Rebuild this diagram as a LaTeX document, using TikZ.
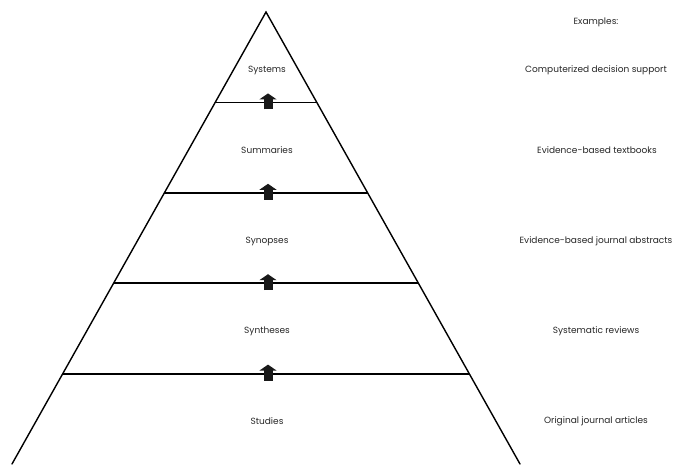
\documentclass[tikz,border=0pt]{standalone}
\usepackage{fontspec}
\setmainfont{Poppins}
\usetikzlibrary{arrows.meta,calc}
\tikzstyle{side} = [line width=1.4pt, line cap=round]
\tikzstyle{rung} = [line width=1.8pt]
\tikzstyle{level} = [font=\fontsize{9}{11}\selectfont, text=black!85, inner sep=0pt]
\tikzstyle{example} = [font=\fontsize{9}{11}\selectfont, text=black!85, inner sep=0pt]
\tikzstyle{uparrow} = [line width=9pt, black!90, -{Triangle[length=6pt,width=17pt]}]

\begin{document}
\begin{tikzpicture}[x=1pt, y=-1pt]
        \useasboundingbox (0,0) rectangle (686,464);
        % pyramid outline
        \coordinate (apex) at (266,12);
        \coordinate (bl) at (12,464);
        \coordinate (br) at (520,464);
        \draw [side] (bl) -- (apex) -- (br);
        % rungs between the levels
        \coordinate (l1) at ($(apex)!0.2!(bl)$);
        \coordinate (r1) at ($(apex)!0.2!(br)$);
        \coordinate (l2) at ($(apex)!0.4!(bl)$);
        \coordinate (r2) at ($(apex)!0.4!(br)$);
        \coordinate (l3) at ($(apex)!0.6!(bl)$);
        \coordinate (r3) at ($(apex)!0.6!(br)$);
        \coordinate (l4) at ($(apex)!0.8!(bl)$);
        \coordinate (r4) at ($(apex)!0.8!(br)$);
        \draw [rung] (l1) -- (r1);
        \draw [rung] (l2) -- (r2);
        \draw [rung] (l3) -- (r3);
        \draw [rung] (l4) -- (r4);
        % levels
        \node (sys) [level] at (267,70) {Systems};
        \node (sum) [level] at (267,150) {Summaries};
        \node (syn) [level] at (267,241) {Synopses};
        \node (sth) [level] at (267,331) {Syntheses};
        \node (stu) [level] at (267,421) {Studies};
        % arrows through the rungs
        \coordinate (a1) at ($(l1)!0.5!(r1)+(2,0)$);
        \coordinate (a2) at ($(l2)!0.5!(r2)+(2,0)$);
        \coordinate (a3) at ($(l3)!0.5!(r3)+(2,0)$);
        \coordinate (a4) at ($(l4)!0.5!(r4)+(2,0)$);
        \draw [uparrow] ($(a1)+(0,7)$) -- ($(a1)+(0,-9)$);
        \draw [uparrow] ($(a2)+(0,7)$) -- ($(a2)+(0,-9)$);
        \draw [uparrow] ($(a3)+(0,7)$) -- ($(a3)+(0,-9)$);
        \draw [uparrow] ($(a4)+(0,7)$) -- ($(a4)+(0,-9)$);
        % examples
        \node (ex) [example] at (596,22) {Examples:};
        \node (ex1) [example] at (596,70) {Computerized decision support};
        \node (ex2) [example] at (597,150) {Evidence-based textbooks};
        \node (ex3) [example] at (596,241) {Evidence-based journal abstracts};
        \node (ex4) [example] at (596,331) {Systematic reviews};
        \node (ex5) [example] at (596,421) {Original journal articles};
\end{tikzpicture}
\end{document}
